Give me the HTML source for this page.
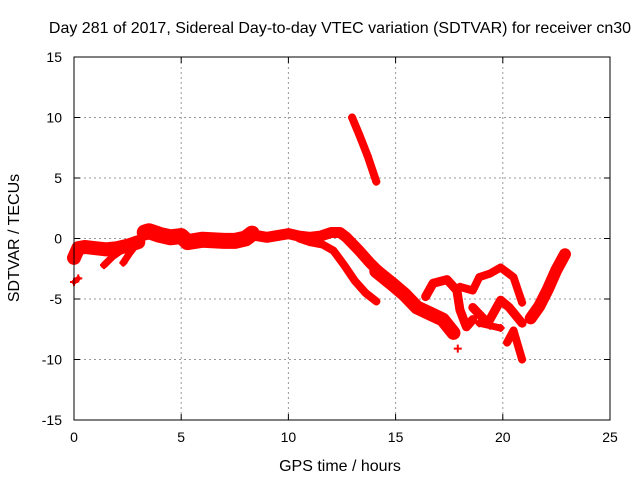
<!DOCTYPE html>
<html><head><meta charset="utf-8"><style>
body{margin:0;background:#fff;font-family:"Liberation Sans",sans-serif;}
svg text{font-family:"Liberation Sans",sans-serif;font-size:14px;fill:#000;}
svg text.big{font-size:16px;}
</style></head><body>
<svg id="chart" width="640" height="480" viewBox="0 0 640 480" xmlns="http://www.w3.org/2000/svg">
<rect width="640" height="480" fill="#fff"/>
<text class="big" x="340" y="33" text-anchor="middle">Day 281 of 2017, Sidereal Day-to-day VTEC variation (SDTVAR) for receiver cn30</text>
<g id="grid"></g>
<g id="ticks"></g>
<g id="marks"></g>
<rect x="74" y="57" width="536" height="363" fill="none" stroke="#000" stroke-width="1"/>
<text class="big" x="340" y="471" text-anchor="middle">GPS time / hours</text>
<text class="big" transform="translate(19,238) rotate(-90)" text-anchor="middle">SDTVAR / TECUs</text>
</svg>
<script>
const xTicks=[0,5,10,15,20,25];
const yTicks=[-15,-10,-5,0,5,10,15];
const trackStart=[[0,-1.6],[0.2,-0.8],[0.5,-0.7],[1,-0.8],[1.5,-0.9],[2,-0.8],[2.5,-0.6],[3,-0.3]];
const trackB1=[[1.4,-2.2],[1.8,-1.5],[2.2,-1.0]];
const trackB2=[[2.3,-2.0],[2.6,-1.2],[3.0,-0.3]];
const trackB0=[[0,-3.6],[0.2,-3.3]];
const trackMid=[[3.3,0.5],[3.5,0.6],[4,0.3],[4.5,0.1],[5,0.2],[5.3,-0.3],[6,-0.1],[7,-0.2],[7.5,-0.2],[8,0],[8.3,0.4]];
const trackMid2=[[8.3,0.3],[9,0.1],[10,0.4],[10.5,0.2],[11,0.1],[11.5,0.2],[12,0.5],[12.4,0.5],[12.7,0.1],[13.3,-1.0],[13.8,-2.0],[14.2,-2.7]];
const trackLow=[[10.5,0],[11,-0.3],[11.6,-0.5],[12.1,-1.0],[12.6,-2.2],[13.1,-3.5],[13.6,-4.5],[14.1,-5.2]];
const trackMain=[[14.1,-2.7],[14.8,-3.7],[15.4,-4.6],[16,-5.7],[16.6,-6.2],[17.2,-6.7],[17.7,-7.8]];
const trackLoop1=[[16.4,-4.8],[16.75,-3.7],[17.4,-3.4],[17.86,-4.3],[18,-5.9],[18.3,-7.3],[18.6,-6.7]];
const trackLoop2=[[18,-4.0],[18.6,-4.3],[18.9,-3.2],[19.4,-2.9],[19.9,-2.4],[20.5,-3.2],[20.9,-5.3]];
const trackLoop3=[[18.6,-5.7],[19.3,-7.0],[19.9,-5.1],[20.3,-5.7],[20.9,-7.0]];
const trackLoop4=[[18.9,-7.0],[19.4,-7.2],[19.9,-7.4]];
const trackBottom=[[20.2,-8.6],[20.5,-7.6],[20.9,-10.0]];
const trackRise=[[21.3,-6.6],[21.7,-5.6],[22.1,-4.2],[22.5,-2.6],[22.9,-1.3]];
const trackSteep=[[12.97,10.0],[13.3,8.6],[13.7,6.8],[14.1,4.7]];
const trackOut=[[17.9,-9.1]];
const tracks=[[trackStart,14],[trackB1,7],[trackB2,7],[trackB0,5],[trackMid,16],[trackMid2,11],[trackLow,8],[trackMain,14],[trackLoop1,9],[trackLoop2,8],[trackLoop3,9],[trackLoop4,7],[trackBottom,8],[trackRise,12],[trackSteep,8],[trackOut,1]];
const NS="http://www.w3.org/2000/svg";
const X=h=>74+h*536/25;
const Y=v=>238.5-v*363/30;
const grid=document.getElementById('grid'),ticks=document.getElementById('ticks'),marks=document.getElementById('marks');
function mk(tag,attrs,parent){const e=document.createElementNS(NS,tag);for(const k in attrs)e.setAttribute(k,attrs[k]);parent.appendChild(e);return e;}
xTicks.forEach(t=>{const x=X(t);
 if(t>0&&t<25){const g=mk('line',{x1:x,x2:x,y1:57,y2:420,stroke:'#999','stroke-dasharray':'2,3'},grid);
 
 }
 mk('line',{x1:x,x2:x,y1:420,y2:414,stroke:'#000'},ticks);mk('line',{x1:x,x2:x,y1:57,y2:63,stroke:'#000'},ticks);
 const l=mk('text',{x:x,y:442,'text-anchor':'middle'},ticks);l.textContent=t;
 
 });
yTicks.forEach(t=>{const y=Y(t);
 if(t>-15&&t<15){const g=mk('line',{x1:74,x2:610,y1:y,y2:y,stroke:'#999','stroke-dasharray':'2,3'},grid);
 
 }
 mk('line',{x1:74,x2:80,y1:y,y2:y,stroke:'#000'},ticks);mk('line',{x1:604,x2:610,y1:y,y2:y,stroke:'#000'},ticks);
 const l=mk('text',{x:62,y:y+5,'text-anchor':'end'},ticks);l.textContent=t;
 
 });
tracks.forEach(([pts,w])=>{
 const pl=mk('polyline',{points:pts.map(p=>X(p[0])+','+Y(p[1])).join(' '),fill:'none',stroke:'#f00','stroke-width':w,'stroke-linejoin':'round','stroke-linecap':'round'},marks);
 
 
 pts.forEach(p=>{const x=X(p[0]),y=Y(p[1]);
  const m=mk('path',{d:`M${x-4},${y}h8M${x},${y-4}v8`,stroke:'#f00','stroke-width':2},marks);
  
  });
});
</script>
</body></html>
